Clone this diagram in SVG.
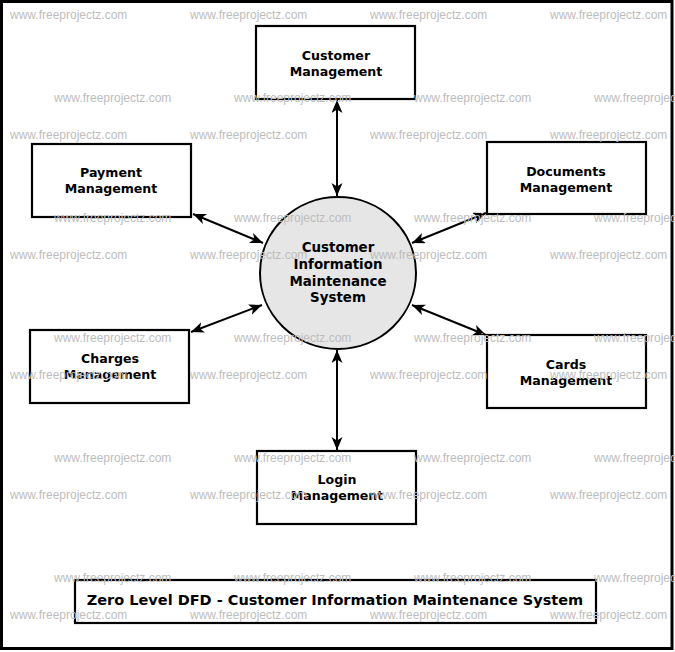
<svg xmlns="http://www.w3.org/2000/svg" width="675" height="652" viewBox="0 0 675 652">
  <style>
    .box { fill: #ffffff; stroke: #000000; stroke-width: 2.2; }
    .proc { fill: #e6e6e6; stroke: #000000; stroke-width: 2; }
    .lbl { font-family: "DejaVu Sans", "Liberation Sans", sans-serif; font-weight: bold; font-size: 12.6px; fill: #000000; text-anchor: middle; }
    .plbl { font-family: "DejaVu Sans", "Liberation Sans", sans-serif; font-weight: bold; font-size: 13.4px; fill: #000000; text-anchor: middle; }
    .title { font-family: "DejaVu Sans", "Liberation Sans", sans-serif; font-weight: bold; font-size: 14.5px; fill: #000000; text-anchor: middle; }
    .flow { stroke: #000000; stroke-width: 2; fill: none; marker-start: url(#arrow); marker-end: url(#arrow); }
    .wm { font-family: "Liberation Sans", Arial, sans-serif; font-size: 12px; fill: #bdbdbd; }
  </style>
  <defs>
    <marker id="arrow" markerUnits="userSpaceOnUse" markerWidth="14" markerHeight="12" refX="13" refY="5.5" orient="auto-start-reverse" viewBox="0 0 14 12">
      <path d="M0,0 L13,5.5 L0,11 L3.5,5.5 Z" fill="#000000"/>
    </marker>
  </defs>
  <rect x="0" y="0" width="675" height="652" fill="#ffffff"/>
  <rect x="1.5" y="1.5" width="670.5" height="647" fill="none" stroke="#000000" stroke-width="3"/>

  <g id="connectors">
    <line class="flow" x1="337" y1="100" x2="337" y2="196"/>
    <line class="flow" x1="337" y1="350" x2="337" y2="450"/>
    <line class="flow" x1="193" y1="214" x2="263" y2="243"/>
    <line class="flow" x1="191" y1="332" x2="262" y2="305"/>
    <line class="flow" x1="412" y1="243" x2="486" y2="213"/>
    <line class="flow" x1="412" y1="305" x2="486" y2="335"/>
  </g>

  <g id="process-cims">
    <ellipse class="proc" cx="338" cy="273" rx="78" ry="76"/>
    <text class="plbl" x="338" y="252">Customer</text>
    <text class="plbl" x="338" y="268.5">Information</text>
    <text class="plbl" x="338" y="285.5">Maintenance</text>
    <text class="plbl" x="338" y="302">System</text>
  </g>

  <g id="customer-management">
    <rect class="box" x="256" y="26" width="159" height="73"/>
    <text class="lbl" x="336" y="60">Customer</text>
    <text class="lbl" x="336" y="76">Management</text>
  </g>

  <g id="payment-management">
    <rect class="box" x="32" y="144" width="159" height="73"/>
    <text class="lbl" x="111" y="177">Payment</text>
    <text class="lbl" x="111" y="193">Management</text>
  </g>

  <g id="documents-management">
    <rect class="box" x="487" y="142" width="159" height="72"/>
    <text class="lbl" x="566" y="176">Documents</text>
    <text class="lbl" x="566" y="192">Management</text>
  </g>

  <g id="charges-management">
    <rect class="box" x="30" y="330" width="159" height="73"/>
    <text class="lbl" x="110" y="363">Charges</text>
    <text class="lbl" x="110" y="379">Management</text>
  </g>

  <g id="cards-management">
    <rect class="box" x="487" y="335" width="159" height="73"/>
    <text class="lbl" x="566" y="369">Cards</text>
    <text class="lbl" x="566" y="385">Management</text>
  </g>

  <g id="login-management">
    <rect class="box" x="257" y="451" width="159" height="73"/>
    <text class="lbl" x="337" y="484">Login</text>
    <text class="lbl" x="337" y="500">Management</text>
  </g>

  <g id="title">
    <rect class="box" x="75" y="580" width="521" height="43"/>
    <text class="title" x="335" y="605">Zero Level DFD - Customer Information Maintenance System</text>
  </g>

  <g id="watermarks">
    <text class="wm" x="10" y="19">www.freeprojectz.com</text>
    <text class="wm" x="190" y="19">www.freeprojectz.com</text>
    <text class="wm" x="370" y="19">www.freeprojectz.com</text>
    <text class="wm" x="550" y="19">www.freeprojectz.com</text>
    <text class="wm" x="54" y="102">www.freeprojectz.com</text>
    <text class="wm" x="234" y="102">www.freeprojectz.com</text>
    <text class="wm" x="414" y="102">www.freeprojectz.com</text>
    <text class="wm" x="594" y="102">www.freeprojectz.com</text>
    <text class="wm" x="10" y="139">www.freeprojectz.com</text>
    <text class="wm" x="190" y="139">www.freeprojectz.com</text>
    <text class="wm" x="370" y="139">www.freeprojectz.com</text>
    <text class="wm" x="550" y="139">www.freeprojectz.com</text>
    <text class="wm" x="54" y="222">www.freeprojectz.com</text>
    <text class="wm" x="234" y="222">www.freeprojectz.com</text>
    <text class="wm" x="414" y="222">www.freeprojectz.com</text>
    <text class="wm" x="594" y="222">www.freeprojectz.com</text>
    <text class="wm" x="10" y="259">www.freeprojectz.com</text>
    <text class="wm" x="190" y="259">www.freeprojectz.com</text>
    <text class="wm" x="370" y="259">www.freeprojectz.com</text>
    <text class="wm" x="550" y="259">www.freeprojectz.com</text>
    <text class="wm" x="54" y="342">www.freeprojectz.com</text>
    <text class="wm" x="234" y="342">www.freeprojectz.com</text>
    <text class="wm" x="414" y="342">www.freeprojectz.com</text>
    <text class="wm" x="594" y="342">www.freeprojectz.com</text>
    <text class="wm" x="10" y="379">www.freeprojectz.com</text>
    <text class="wm" x="190" y="379">www.freeprojectz.com</text>
    <text class="wm" x="370" y="379">www.freeprojectz.com</text>
    <text class="wm" x="550" y="379">www.freeprojectz.com</text>
    <text class="wm" x="54" y="462">www.freeprojectz.com</text>
    <text class="wm" x="234" y="462">www.freeprojectz.com</text>
    <text class="wm" x="414" y="462">www.freeprojectz.com</text>
    <text class="wm" x="594" y="462">www.freeprojectz.com</text>
    <text class="wm" x="10" y="499">www.freeprojectz.com</text>
    <text class="wm" x="190" y="499">www.freeprojectz.com</text>
    <text class="wm" x="370" y="499">www.freeprojectz.com</text>
    <text class="wm" x="550" y="499">www.freeprojectz.com</text>
    <text class="wm" x="54" y="582">www.freeprojectz.com</text>
    <text class="wm" x="234" y="582">www.freeprojectz.com</text>
    <text class="wm" x="414" y="582">www.freeprojectz.com</text>
    <text class="wm" x="594" y="582">www.freeprojectz.com</text>
    <text class="wm" x="10" y="619">www.freeprojectz.com</text>
    <text class="wm" x="190" y="619">www.freeprojectz.com</text>
    <text class="wm" x="370" y="619">www.freeprojectz.com</text>
    <text class="wm" x="550" y="619">www.freeprojectz.com</text>
  </g>
</svg>
